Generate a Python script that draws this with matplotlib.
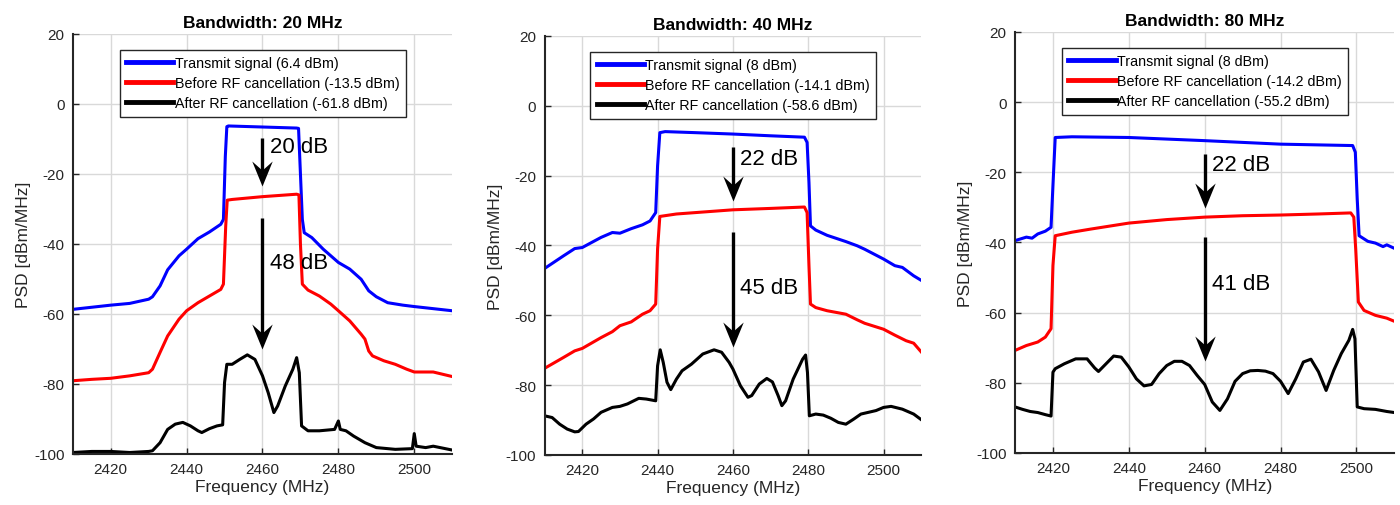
import matplotlib
matplotlib.use('Agg')
import matplotlib.pyplot as plt
from matplotlib.path import Path

plt.rcParams['font.family'] = ['Liberation Sans', 'DejaVu Sans']
plt.rcParams['axes.unicode_minus'] = False

# ---- 20 MHz ----
f20_tx = [2410, 2420, 2425, 2430, 2431, 2433, 2435, 2438, 2440, 2443, 2446, 2449, 2449.7,
          2450.2, 2450.6, 2451, 2460, 2469, 2469.5, 2470, 2470.5, 2471, 2473, 2476, 2480,
          2483, 2486, 2488, 2490, 2493, 2497, 2500, 2505, 2510]
p20_tx = [-58.7, -57.5, -57, -55.8, -55.1, -52, -47.4, -43.4, -41.5, -38.5, -36.6, -34.4, -33,
          -15, -6.5, -6.3, -6.6, -6.9, -7, -20, -33, -36.8, -38.2, -41.5, -45.3,
          -47.2, -50.1, -53.4, -55.1, -56.8, -57.5, -57.9, -58.5, -59.1]
f20_bf = [2410, 2415, 2420, 2425, 2430, 2431, 2433, 2435, 2438, 2440, 2443, 2446, 2449, 2449.7,
          2450.3, 2450.7, 2452, 2460, 2469, 2469.6, 2470, 2470.5, 2472, 2475, 2478, 2480,
          2483, 2486, 2487, 2488, 2489, 2492, 2495, 2498, 2500, 2505, 2510]
p20_bf = [-79.1, -78.7, -78.4, -77.7, -76.8, -75.8, -71, -66.3, -61.5, -59.1, -56.8, -54.9, -53, -51.5,
          -35, -27.5, -27.3, -26.5, -25.8, -26, -40, -51.5, -53.2, -54.9, -57.2, -59.1,
          -62, -65.8, -67.2, -70.6, -72, -73.4, -74.4, -75.8, -76.6, -76.6, -77.9]
f20_af = [2410, 2415, 2420, 2425, 2430, 2431, 2433, 2435, 2437, 2439, 2441, 2443, 2444, 2446, 2448,
          2449.5, 2450, 2450.6, 2452, 2454, 2456, 2458, 2460, 2461.5, 2463, 2464, 2466, 2468,
          2469, 2469.7, 2470.3, 2472, 2475, 2479, 2480, 2480.5, 2482, 2484, 2487, 2490, 2495,
          2499.5, 2500, 2500.5, 2503, 2505, 2510]
p20_af = [-99.6, -99.3, -99.3, -99.6, -99.3, -99.1, -96.8, -93, -91.5, -91, -92, -93.4, -93.9, -92.8, -92,
          -91.7, -79.6, -74.4, -74.4, -73, -71.7, -73, -77.7, -82.5, -88.2, -86.3, -80.6, -75.8,
          -72.5, -76.8, -92, -93.4, -93.4, -93, -90.6, -93, -93.4, -94.9, -96.8, -98.2, -98.7,
          -98.5, -94.2, -97.8, -98.2, -97.8, -98.9]

# ---- 40 MHz ----
f40_tx = [2410, 2415, 2418, 2420, 2425, 2428, 2430, 2433, 2436, 2438, 2439.5, 2440, 2440.6, 2442,
          2450, 2460, 2470, 2479, 2479.7, 2480.2, 2480.6, 2482, 2485, 2490, 2493, 2495, 2500,
          2503, 2505, 2508, 2510]
p40_tx = [-46.6, -43, -40.9, -40.6, -37.7, -36.3, -36.5, -35.2, -34.1, -33, -30.6, -17.2, -7.7, -7.4,
          -7.7, -8.1, -8.6, -9, -10.5, -22, -34.4, -35.6, -37.1, -38.9, -40.1, -41.1, -43.9,
          -45.8, -46.3, -48.7, -50]
f40_bf = [2410, 2415, 2418, 2420, 2425, 2428, 2430, 2433, 2436, 2438, 2439.5, 2440, 2440.6, 2445,
          2450, 2460, 2470, 2479, 2479.7, 2480.2, 2480.6, 2482, 2485, 2490, 2493, 2495, 2500,
          2503, 2506, 2508, 2510]
p40_bf = [-75.2, -72.1, -70.2, -69.5, -66.4, -64.7, -63, -61.9, -59.7, -58.7, -56.8, -41, -31.7, -31,
          -30.6, -29.8, -29.4, -29, -30.6, -45.8, -56.8, -57.8, -58.7, -59.7, -61.3, -62.3, -64,
          -65.7, -67.3, -68, -70.5]
f40_af = [2410, 2412, 2414, 2416, 2418, 2419, 2421, 2423, 2425, 2428, 2430, 2432, 2435, 2437, 2439.5,
          2440, 2440.7, 2441.5, 2442.5, 2443.5, 2445, 2446.5, 2449, 2452, 2455, 2457, 2459, 2460,
          2462, 2464, 2465, 2467, 2469, 2470.5, 2472, 2473, 2474, 2476, 2478.5, 2479.3, 2479.8,
          2480.3, 2482, 2484, 2486, 2488, 2490, 2492, 2494, 2496, 2498, 2500, 2502, 2505, 2508, 2510]
p40_af = [-88.8, -89.3, -91.2, -92.6, -93.4, -93.3, -91.2, -89.7, -87.8, -86.4, -86.1, -85.4, -83.8, -84, -84.5,
          -74.5, -69.9, -73.5, -79.2, -81.3, -78.3, -75.9, -74, -71.1, -69.9, -70.6, -73.5, -75.4,
          -80.2, -83.5, -83, -79.7, -78.1, -79.1, -83, -85.9, -84.5, -78.3, -72.6, -71.4, -76.4,
          -88.8, -88.3, -88.6, -89.5, -90.7, -91.2, -89.8, -88.3, -87.8, -87.3, -86.4, -86.1, -86.9, -88.3, -89.9]

# ---- 80 MHz ----
f80_tx = [2410, 2413, 2414.5, 2416, 2418, 2419.5, 2420, 2420.6, 2425, 2440, 2460, 2480, 2499,
          2499.7, 2500.2, 2500.7, 2503, 2505, 2507, 2508, 2510]
p80_tx = [-39.5, -38.5, -38.8, -37.6, -36.8, -35.7, -23.8, -10.1, -9.9, -10.1, -11, -12, -12.4,
          -14.3, -27.6, -38.1, -39.7, -40.2, -41.2, -40.7, -41.7]
f80_bf = [2410, 2413, 2416, 2418, 2419.5, 2420, 2420.6, 2425, 2430, 2440, 2450, 2460, 2470, 2480,
          2490, 2498.5, 2499.3, 2499.8, 2500.5, 2502, 2505, 2508, 2510]
p80_bf = [-70.8, -69.4, -68.4, -67, -64.6, -46.6, -38.1, -37.1, -36.2, -34.5, -33.5, -32.8, -32.4, -32.2,
          -31.9, -31.6, -32.8, -41.9, -57, -59.4, -60.8, -61.6, -62.5]
f80_af = [2410, 2412, 2414, 2416, 2418, 2419.5, 2420, 2420.6, 2423, 2426, 2429, 2431, 2432, 2434, 2436,
          2438, 2440, 2442, 2444, 2446, 2448, 2450, 2452, 2454, 2456, 2458, 2460, 2462, 2464, 2466,
          2468, 2470, 2472, 2474, 2476, 2478, 2480, 2482, 2484, 2486, 2488, 2490, 2492, 2494, 2496,
          2498, 2499, 2499.6, 2500.2, 2502, 2505, 2508, 2510]
p80_af = [-86.9, -87.6, -88.2, -88.5, -89.1, -89.5, -77, -76, -74.6, -73.2, -73.2, -75.8, -76.8, -74.6, -72.4,
          -72.7, -75.5, -78.9, -80.9, -80.5, -77.4, -75.1, -73.9, -73.9, -75.1, -77.9, -80.5, -85.5, -87.9, -84.6,
          -79.6, -77.4, -76.6, -76.5, -76.7, -77.4, -79.6, -83.1, -78.9, -74.1, -73.3, -76.9, -82.2, -76.5, -71.7,
          -67.9, -64.8, -67.5, -86.9, -87.4, -87.6, -88.2, -88.5]

titles = ['Bandwidth: 20 MHz', 'Bandwidth: 40 MHz', 'Bandwidth: 80 MHz']
leg_tx = ['Transmit signal (6.4 dBm)', 'Transmit signal (8 dBm)', 'Transmit signal (8 dBm)']
leg_bf = ['Before RF cancellation (-13.5 dBm)', 'Before RF cancellation (-14.1 dBm)',
          'Before RF cancellation (-14.2 dBm)']
leg_af = ['After RF cancellation (-61.8 dBm)', 'After RF cancellation (-58.6 dBm)',
          'After RF cancellation (-55.2 dBm)']
# arrows: (start, tip) for the two gaps, and labels
arrow1 = [(-9.7, -23.4), (-11.8, -27.3), (-14.8, -30.2)]
arrow2 = [(-32.6, -70), (-36.1, -69.2), (-38.4, -73.8)]
gap1 = ['20 dB', '22 dB', '22 dB']
gap2 = ['48 dB', '45 dB', '41 dB']
gap1_y = [-12.3, -15.2, -17.9]
gap2_y = [-45.4, -52, -51.8]

data = [(f20_tx, p20_tx, f20_bf, p20_bf, f20_af, p20_af),
        (f40_tx, p40_tx, f40_bf, p40_bf, f40_af, p40_af),
        (f80_tx, p80_tx, f80_bf, p80_bf, f80_af, p80_af)]

boxes = [[0.052, 0.101, 0.271, 0.830],
         [0.389, 0.099, 0.269, 0.828],
         [0.725, 0.103, 0.271, 0.832]]

# matlab-like arrow head (concave back), tip at the marker origin
head = Path([(0, 0), (-9, 22), (0, 14), (9, 22), (0, 0)],
            [Path.MOVETO, Path.LINETO, Path.LINETO, Path.LINETO, Path.CLOSEPOLY])

fig = plt.figure(figsize=(14, 5.06), dpi=100)

for i in range(3):
    ax = fig.add_axes(boxes[i])
    ftx, ptx, fbf, pbf, faf, paf = data[i]
    ax.plot(ftx, ptx, color='#0000ff', lw=2.2, label=leg_tx[i])
    ax.plot(fbf, pbf, color='#ff0000', lw=2.2, label=leg_bf[i])
    ax.plot(faf, paf, color='black', lw=2.2, label=leg_af[i])

    ax.set_xlim(2410, 2510)
    ax.set_ylim(-100, 20)
    ax.set_xticks([2420, 2440, 2460, 2480, 2500])
    ax.set_yticks([-100, -80, -60, -40, -20, 0, 20])
    ax.grid(True, color='#d9d9d9', lw=1)
    ax.set_axisbelow(True)
    for s in ['top', 'right']:
        ax.spines[s].set_visible(False)
    for s in ['left', 'bottom']:
        ax.spines[s].set_color('#262626')
        ax.spines[s].set_linewidth(1.5)
    ax.tick_params(direction='in', length=4, width=1, colors='#262626', labelsize=11, pad=6)

    ax.set_title(titles[i], fontsize=12.5, fontweight='bold', pad=5)
    ax.set_xlabel('Frequency (MHz)', fontsize=12.5, color='#262626', labelpad=2)
    ax.set_ylabel('PSD [dBm/MHz]', fontsize=12.5, color='#262626', labelpad=2)

    leg = ax.legend(loc='upper center', bbox_to_anchor=(0.501, 0.962), fontsize=10.3,
                    handlelength=3.3, handletextpad=0.1, borderpad=0.45, labelspacing=0.42,
                    borderaxespad=0, fancybox=False, framealpha=1, edgecolor='#262626')
    leg.get_frame().set_linewidth(1)
    for ln in leg.get_lines():
        ln.set_linewidth(3.5)

    for (y0, y1) in [arrow1[i], arrow2[i]]:
        ax.plot([2460, 2460], [y0, y1 + 3], color='black', lw=2.4, solid_capstyle='butt')
        ax.plot([2460], [y1], marker=head, markersize=36, color='black', markeredgewidth=0)
    ax.text(2462, gap1_y[i], gap1[i], fontsize=16, va='center', ha='left')
    ax.text(2462, gap2_y[i], gap2[i], fontsize=16, va='center', ha='left')

fig.savefig('out.png', dpi=100)
